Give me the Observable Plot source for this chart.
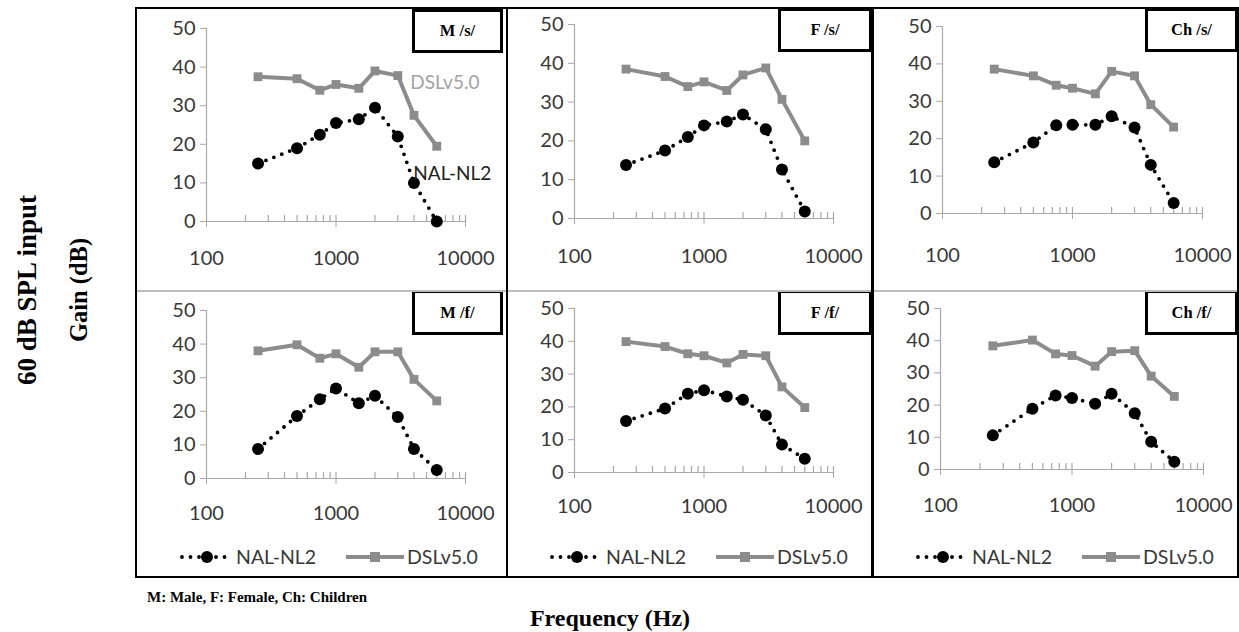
<!DOCTYPE html>
<html>
<head>
<meta charset="utf-8">
<script src="https://cdn.jsdelivr.net/npm/d3@7"></script>
<script src="https://cdn.jsdelivr.net/npm/@observablehq/plot@0.6"></script>
<style>
html, body { margin: 0; padding: 0; background: #fff; }
#root { position: relative; width: 1239px; height: 632px; overflow: hidden; background: #fff; }
.panel { position: absolute; }
.panel svg { overflow: visible; }
.tag { position: absolute; box-sizing: border-box; border: 3px solid #000; background: #fff;
  font: bold 16.5px "Liberation Serif", "Times New Roman", serif; color: #000;
  display: flex; align-items: center; justify-content: center; }
.rule { position: absolute; }
.serif { position: absolute; font-family: "Liberation Serif", "Times New Roman", serif; font-weight: bold; color: #000; white-space: nowrap; }
.legend { position: absolute; left: 0; }
</style>
</head>
<body>
<div id="root"></div>
<script>
// ---------- data ----------
const frequencies = [250, 500, 750, 1000, 1500, 2000, 3000, 4000, 6000];
const panelTitles = ["M /s/", "F /s/", "Ch /s/", "M /f/", "F /f/", "Ch /f/"];
const seriesNames = ["NAL-NL2", "DSLv5.0"];

const nalMaleS   = [15, 19, 22.5, 25.5, 26.5, 29.5, 22, 10, 0];
const dslMaleS   = [37.5, 37, 34, 35.5, 34.5, 39, 37.8, 27.5, 19.5];
const nalFemaleS = [13.8, 17.5, 21, 24, 25, 26.8, 23, 12.6, 1.8];
const dslFemaleS = [38.5, 36.6, 34, 35.2, 33, 37, 38.8, 30.7, 20];
const nalChildS  = [13.7, 19, 23.6, 23.7, 23.7, 26, 23, 13, 2.8];
const dslChildS  = [38.6, 36.8, 34.3, 33.5, 32, 38, 36.8, 29.1, 23.1];
const nalMaleF   = [8.8, 18.6, 23.6, 26.8, 22.4, 24.6, 18.3, 8.8, 2.5];
const dslMaleF   = [38, 39.8, 35.8, 37.1, 33.1, 37.7, 37.7, 29.5, 23.1];
const nalFemaleF = [15.7, 19.5, 24, 25.1, 23.2, 22.2, 17.4, 8.5, 4.2];
const dslFemaleF = [39.9, 38.4, 36.2, 35.6, 33.4, 36, 35.6, 26.1, 19.8];
const nalChildF  = [10.6, 18.9, 23, 22.2, 20.4, 23.5, 17.5, 8.6, 2.4];
const dslChildF  = [38.4, 40.2, 35.9, 35.4, 32.1, 36.6, 36.9, 29, 22.7];

const nalSeries = [nalMaleS, nalFemaleS, nalChildS, nalMaleF, nalFemaleF, nalChildF];
const dslSeries = [dslMaleS, dslFemaleS, dslChildS, dslMaleF, dslFemaleF, dslChildF];

const yTicks = [0, 10, 20, 30, 40, 50];
const xTickLabels = [100, 1000, 10000];
// in-plot labels of the first panel (data coordinates)
const inlineLabels = [
  {text: "DSLv5.0", freq: 3750, gain: 35.8, series: "DSLv5.0"},
  {text: "NAL-NL2", freq: 3950, gain: 12.4, series: "NAL-NL2"}
];
const footnote = "M: Male, F: Female, Ch: Children";
const xTitle = "Frequency (Hz)";
const yTitle1 = "60 dB SPL input";
const yTitle2 = "Gain (dB)";

// ---------- layout ----------
const layout = [
  {left: 136, top: 8,   w: 370, h: 283, mL: 70, mT: 20, mR: 41, mB: 70, pad: 23, tag: [276, 1, 91, 44]},
  {left: 506, top: 8,   w: 366, h: 283, mL: 68, mT: 16, mR: 39, mB: 73, pad: 24, tag: [272, 0, 94, 44]},
  {left: 872, top: 8,   w: 366, h: 283, mL: 70, mT: 18, mR: 36, mB: 78, pad: 28, tag: [273, 0, 93, 44]},
  {left: 136, top: 291, w: 370, h: 286, mL: 70, mT: 19, mR: 41, mB: 99, pad: 21, tag: [276, -1, 91, 45], legend: true},
  {left: 506, top: 291, w: 366, h: 286, mL: 68, mT: 17, mR: 39, mB: 105, pad: 20, tag: [272, -1, 94, 45], legend: true},
  {left: 872, top: 291, w: 366, h: 286, mL: 68, mT: 17, mR: 35, mB: 108, pad: 22, tag: [273, -1, 93, 45], legend: true}
];

const DSL_COLOR = "#8c8c8c";
const AXIS_COLOR = "#a8a8a8";
const TEXT_COLOR = "#383838";
const FONT = "Lato, 'Open Sans', sans-serif";
const root = document.getElementById("root");

const minorTicks = d3.scaleLog().domain([100, 10000]).ticks().filter(d => d > 100);
const tickUp = {draw(ctx) { ctx.moveTo(0, 0); ctx.lineTo(0, -6.5); }};

layout.forEach((L, i) => {
  const rows = frequencies.map((f, j) => ({freq: f, nal: nalSeries[i][j], dsl: dslSeries[i][j]}));
  const marks = [
    Plot.ruleX([100], {stroke: AXIS_COLOR, strokeWidth: 1.2}),
    Plot.ruleY([0], {stroke: AXIS_COLOR, strokeWidth: 1.2}),
    Plot.dot(minorTicks, {x: d => d, y: () => 0, symbol: tickUp, stroke: AXIS_COLOR, strokeWidth: 1.2, fill: "none"}),
    Plot.axisY({ticks: yTicks, tickSize: 6, tickPadding: 5, stroke: AXIS_COLOR, fill: TEXT_COLOR,
      fontSize: 20, label: null, tickFormat: d => String(d)}),
    Plot.axisX({ticks: xTickLabels, tickSize: 6, tickPadding: L.pad, stroke: AXIS_COLOR, fill: TEXT_COLOR,
      fontSize: 20, label: null, tickFormat: d => String(d)}),
    Plot.line(rows, {x: "freq", y: "dsl", stroke: DSL_COLOR, strokeWidth: 4, strokeLinejoin: "round"}),
    Plot.dot(rows, {x: "freq", y: "dsl", symbol: "square", r: 5, fill: DSL_COLOR, stroke: "none"}),
    Plot.line(rows, {x: "freq", y: "nal", stroke: "#000", strokeWidth: 3.8, strokeDasharray: "0 8.5", strokeLinecap: "round"}),
    Plot.dot(rows, {x: "freq", y: "nal", r: 6, fill: "#000", stroke: "none"})
  ];
  if (i === 0) {
    marks.push(Plot.text(inlineLabels, {x: "freq", y: "gain", text: "text", textAnchor: "start",
      fill: d => d.series === "DSLv5.0" ? "#a3a3a3" : "#222", fontSize: 19}));
  }
  const chart = Plot.plot({
    width: L.w, height: L.h,
    marginLeft: L.mL, marginRight: L.mR, marginTop: L.mT, marginBottom: L.mB,
    x: {type: "log", domain: [100, 10000]},
    y: {domain: [0, 50]},
    style: {fontFamily: FONT, fontSize: "20px", color: TEXT_COLOR, background: "transparent", overflow: "visible"},
    marks
  });
  const div = document.createElement("div");
  div.className = "panel";
  div.style.left = L.left + "px";
  div.style.top = L.top + "px";
  div.style.width = L.w + "px";
  div.style.height = L.h + "px";
  div.appendChild(chart);

  if (L.legend) {
    const lg = document.createElement("div");
    lg.className = "legend";
    lg.style.top = (L.h - 32) + "px";
    div.appendChild(lg);
    const svg = d3.select(lg).append("svg").attr("width", L.w).attr("height", 24)
      .style("font-family", FONT).style("font-size", "19.5px");
    svg.append("line").attr("x1", 46).attr("x2", 92).attr("y1", 12).attr("y2", 12)
      .attr("stroke", "#000").attr("stroke-width", 3.8).attr("stroke-dasharray", "0 8.5").attr("stroke-linecap", "round");
    svg.append("circle").attr("cx", 71).attr("cy", 12).attr("r", 6).attr("fill", "#000");
    svg.append("text").attr("x", 100).attr("y", 12).attr("dy", "0.35em").attr("fill", TEXT_COLOR).text(seriesNames[0]);
    svg.append("line").attr("x1", 210).attr("x2", 268).attr("y1", 12).attr("y2", 12)
      .attr("stroke", DSL_COLOR).attr("stroke-width", 4);
    svg.append("rect").attr("x", 234).attr("y", 7).attr("width", 10).attr("height", 10).attr("fill", DSL_COLOR);
    svg.append("text").attr("x", 271).attr("y", 12).attr("dy", "0.35em").attr("fill", TEXT_COLOR).text(seriesNames[1]);
  }

  const tag = document.createElement("div");
  tag.className = "tag";
  tag.style.left = L.tag[0] + "px";
  tag.style.top = L.tag[1] + "px";
  tag.style.width = L.tag[2] + "px";
  tag.style.height = L.tag[3] + "px";
  tag.textContent = panelTitles[i];
  div.appendChild(tag);
  root.appendChild(div);
});

// frame lines
function rule(x, y, w, h, color) {
  const r = document.createElement("div");
  r.className = "rule";
  Object.assign(r.style, {left: x + "px", top: y + "px", width: w + "px", height: h + "px", background: color});
  root.appendChild(r);
}
rule(136, 290, 1102, 1.5, "#bdbdbd");
rule(135, 7, 1104, 2, "#000");
rule(135, 576, 1104, 2, "#000");
rule(135, 7, 2.2, 571, "#000");
rule(1236.5, 7, 2.2, 571, "#000");
rule(505.5, 7, 2.5, 571, "#000");
rule(871, 7, 2.5, 571, "#000");

// titles
function label(text, cx, cy, size, rotate) {
  const d = document.createElement("div");
  d.className = "serif";
  d.textContent = text;
  Object.assign(d.style, {left: cx + "px", top: cy + "px", fontSize: size + "px",
    transform: "translate(-50%,-50%)" + (rotate ? " rotate(-90deg)" : "")});
  root.appendChild(d);
}
label(yTitle1, 27, 290, 27, true);
label(yTitle2, 79, 290, 24.5, true);
label(xTitle, 610, 618, 24, false);
const fn = document.createElement("div");
fn.className = "serif";
fn.textContent = footnote;
Object.assign(fn.style, {left: "147px", top: "589px", fontSize: "15px"});
root.appendChild(fn);
</script>
</body>
</html>
